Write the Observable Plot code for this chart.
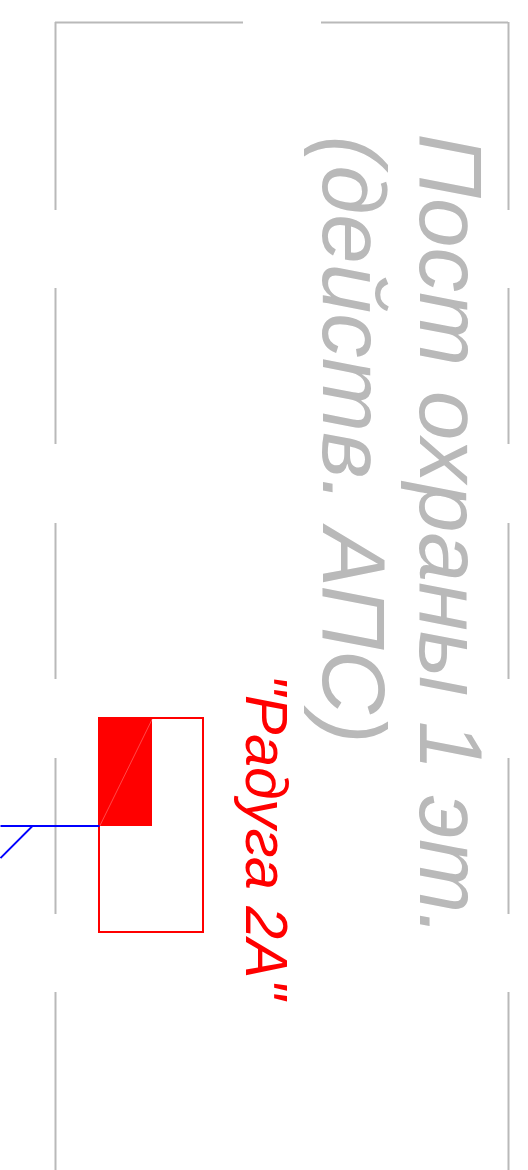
<!DOCTYPE html>
<html><head><meta charset="utf-8">
<style>html,body{margin:0;padding:0;background:#fff}svg{display:block}svg text{font-family:"Liberation Sans",Arial,sans-serif !important;font-style:italic}</style>
<script src="https://cdn.jsdelivr.net/npm/d3@7"></script>
<script src="https://cdn.jsdelivr.net/npm/@observablehq/plot@0.6"></script>
</head><body>
<script>
// Drawing coordinates
const frameXs = [55, 508];
const frameRuns = [[22, 210], [288, 444], [523, 679], [758, 914], [992, 1170]];
const topRuns = [[55, 243], [321, 508]];
const topY = 22;
const wire = [[0, 825.5, 99, 825.5], [32, 825.5, 0, 857.5]];
const device = {x1: 99, x2: 203, y1: 718, y2: 932};
const deviceFill = {x1: 99, x2: 152, y1: 718, y2: 826};
const seam = [{x1: 99, y1: 826, x2: 152, y2: 718}];
const grayLabels = [
  {x: 419.5, y: 133, text: "Пост охраны 1 эт."},
  {x: 322, y: 135, text: "(действ. АПС)"}
];
const redLabels = [{x: 245, y: 673.5, text: "\"Радуга 2А\""}];

const verticals = frameXs.flatMap(x => frameRuns.map(([y1, y2]) => ({x, y1, y2})));
const horizontals = topRuns.map(([x1, x2]) => ({x1, x2, y: topY}));
const wires = wire.map(([x1, y1, x2, y2]) => ({x1, y1, x2, y2}));

const chart = Plot.plot({
  width: 528, height: 1170,
  margin: 0,
  x: {domain: [0, 528], range: [0, 528], axis: null},
  y: {domain: [0, 1170], range: [0, 1170], axis: null},
  style: {background: "#fff"},
  marks: [
    Plot.ruleX(verticals, {x: "x", y1: "y1", y2: "y2", stroke: "#b9b9b9", strokeWidth: 2}),
    Plot.ruleY(horizontals, {y: "y", x1: "x1", x2: "x2", stroke: "#b9b9b9", strokeWidth: 2}),
    Plot.text(grayLabels, {x: "x", y: "y", text: "text", rotate: 90, textAnchor: "start", lineAnchor: "bottom",
      fontFamily: "Liberation Sans", fontStyle: "italic", fontSize: 89, fill: "#b9b9b9"}),
    Plot.text(redLabels, {x: "x", y: "y", text: "text", rotate: 90, textAnchor: "start", lineAnchor: "bottom",
      fontFamily: "Liberation Sans", fontStyle: "italic", fontSize: 59, fill: "#ff0000"}),
    Plot.rect([deviceFill], {x1: "x1", x2: "x2", y1: "y1", y2: "y2", fill: "#ff0000"}),
    Plot.link(seam, {x1: "x1", y1: "y1", x2: "x2", y2: "y2", stroke: "#ff9090", strokeWidth: 0.5}),
    Plot.rect([device], {x1: "x1", x2: "x2", y1: "y1", y2: "y2", fill: "none", stroke: "#ff0000", strokeWidth: 2}),
    Plot.link(wires, {x1: "x1", y1: "y1", x2: "x2", y2: "y2", stroke: "#0000ff", strokeWidth: 1.8})
  ]
});
document.body.appendChild(chart);
</script>
</body></html>
